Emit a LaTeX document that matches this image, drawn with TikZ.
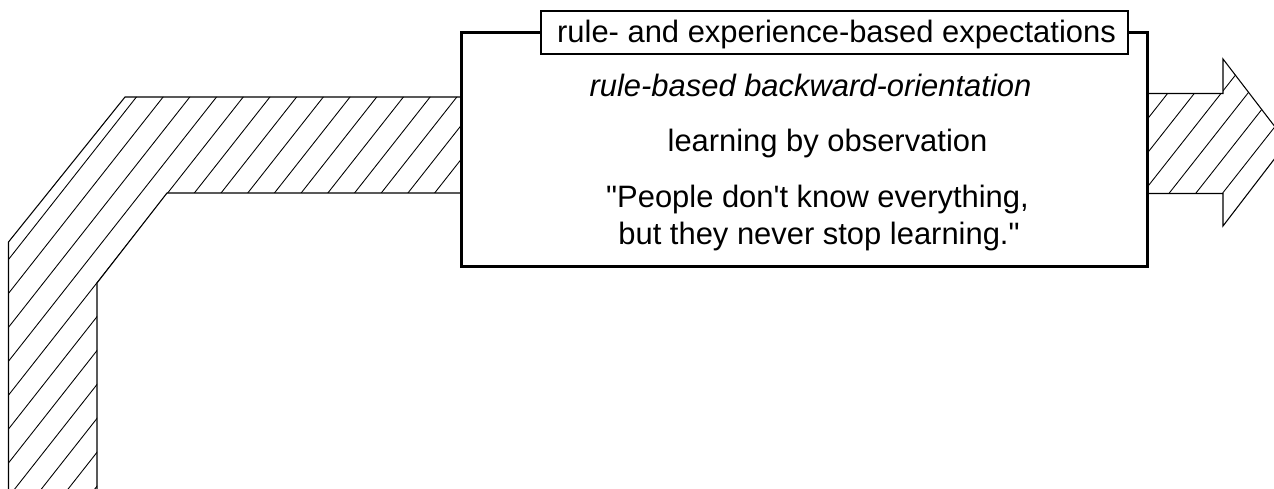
\documentclass[tikz,border=0pt]{standalone}
\usepackage{fontspec}
\setmainfont{Liberation Sans}[Ligatures=TeXOff]
\begin{document}
\begin{tikzpicture}[x=0.02cm,y=-0.02cm,
  bandline/.style={line width=0.6pt},
  hatchline/.style={line width=0.5pt},
  mainbox/.style={draw, line width=1.7pt, fill=white, inner sep=0pt,
    minimum width=13.74cm, minimum height=4.7cm},
  titlebox/.style={draw, line width=0.75pt, fill=white, inner sep=0pt,
    minimum width=11.74cm, minimum height=0.86cm},
  txt/.style={anchor=base, inner sep=0pt, font=\fontsize{17.6}{21}\selectfont}]
\useasboundingbox (0,0) rectangle (1274,489);
\clip (0,0) rectangle (1274,489);
% left band hatch
\begin{scope}
  \clip (125,97) -- (461,97) -- (461,193) -- (167,193) -- (97,283) -- (97,520)
        -- (8.5,520) -- (8.5,242) -- cycle;
  \foreach \k in {-2,...,17} {
    \pgfmathsetmacro\c{212.8+26.7*\k}
    \draw[hatchline] ({\c-63},80) -- ({\c-409.4},520);
  }
\end{scope}
% right arrow hatch
\begin{scope}
  \clip (1148,93.5) -- (1223,93.5) -- (1223,59) -- (1287,142.5) -- (1223,226)
        -- (1223,193.5) -- (1148,193.5) -- cycle;
  \foreach \k in {-2,...,8} {
    \pgfmathsetmacro\c{1241.2+26.7*\k}
    \draw[hatchline] ({\c-39.4},50) -- ({\c-189},240);
  }
\end{scope}
% band outlines
\draw[bandline] (461,97) -- (125,97) -- (8.5,242) -- (8.5,520);
\draw[bandline] (461,193) -- (167,193) -- (97,283) -- (97,520);
\draw[bandline] (1148,93.5) -- (1223,93.5) -- (1223,59) -- (1287,142.5)
  -- (1223,226) -- (1223,193.5) -- (1148,193.5);
% main box and title
\node[mainbox] (box) at (804.5,149.5) {};
\node[titlebox] (title) at (834.5,32.5) {};
\node[txt] (titletext) at (836.5,43) {rule- and experience-based expectations};
\node[txt] (l1) at (810.5,97) {\itshape rule-based backward-orientation};
\node[txt] (l2) at (827.5,152) {learning by observation};
\node[txt] (l3) at (817.5,208) {"People don't know everything,};
\node[txt] (l4) at (819,245) {but they never stop learning."};
\end{tikzpicture}
\end{document}
